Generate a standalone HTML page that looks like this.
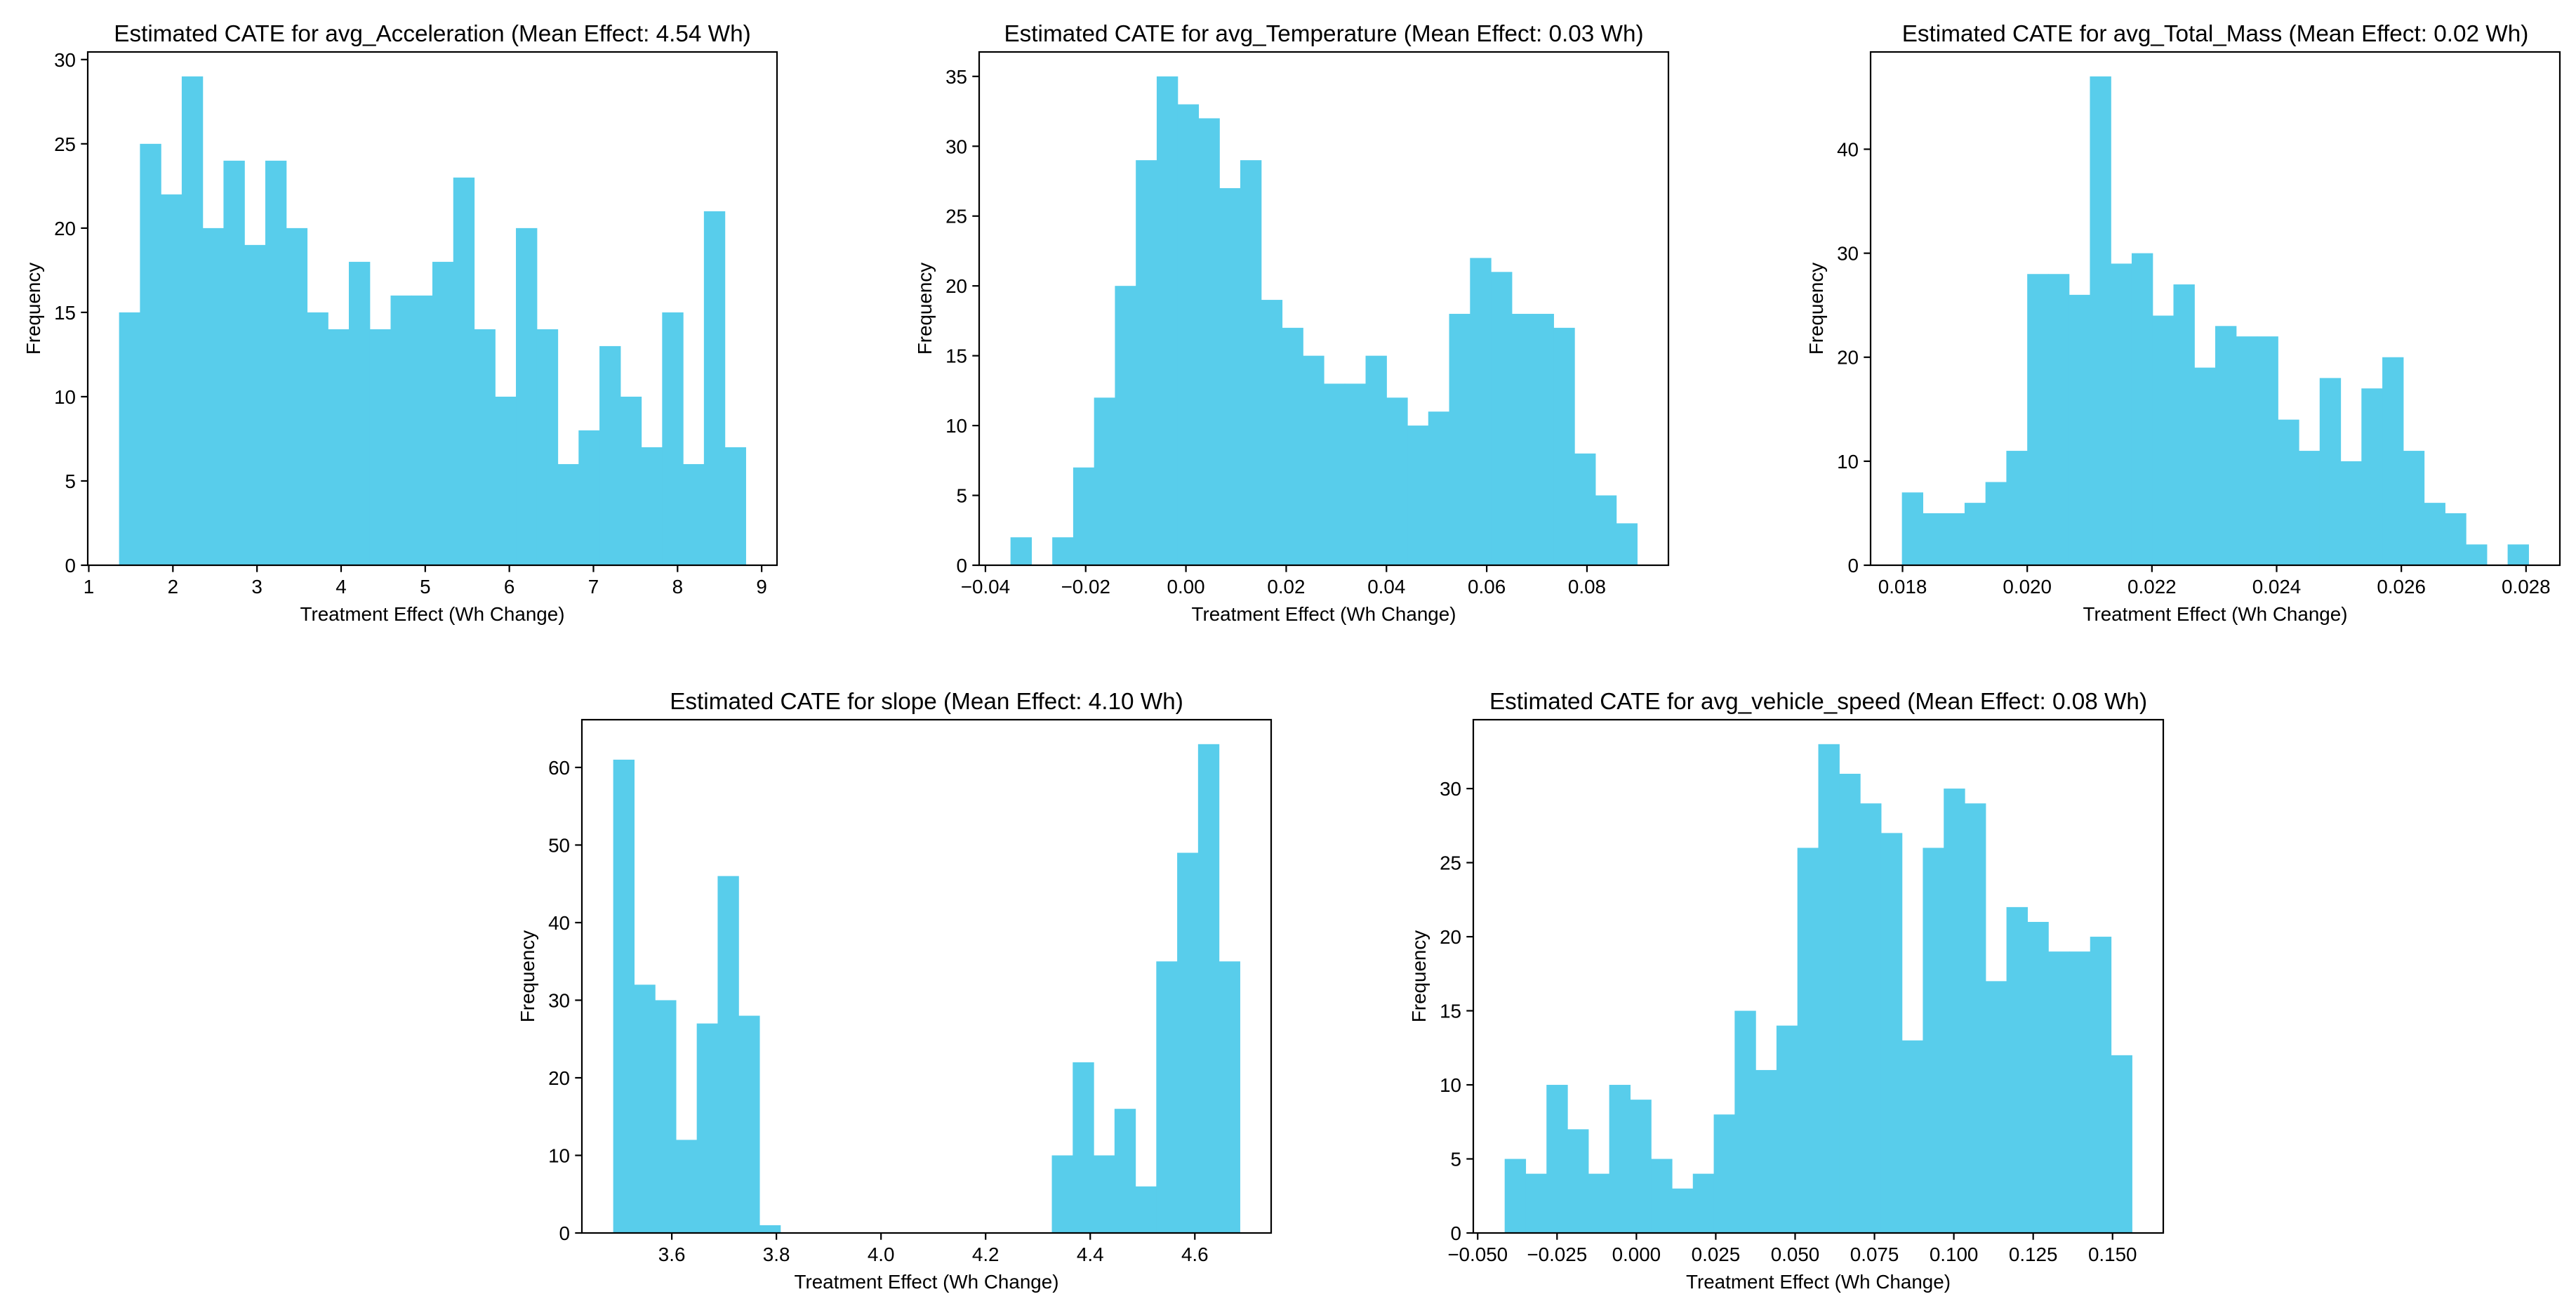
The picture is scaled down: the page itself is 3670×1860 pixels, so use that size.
<!DOCTYPE html>
<html><head><meta charset="utf-8"><style>
html,body{margin:0;padding:0;background:#fff;}
svg text{font-family:"Liberation Sans","DejaVu Sans",sans-serif;fill:#000;}
</style></head><body>
<svg id="fig" width="3670" height="1855" viewBox="0 0 3670 1855" xmlns="http://www.w3.org/2000/svg">
<rect width="3670" height="1855" fill="#fff"/>
</svg>
<script>
// ---- chart data ----
const titles = [
 "Estimated CATE for avg_Acceleration (Mean Effect: 4.54 Wh)",
 "Estimated CATE for avg_Temperature (Mean Effect: 0.03 Wh)",
 "Estimated CATE for avg_Total_Mass (Mean Effect: 0.02 Wh)",
 "Estimated CATE for slope (Mean Effect: 4.10 Wh)",
 "Estimated CATE for avg_vehicle_speed (Mean Effect: 0.08 Wh)"
];
const countsAccel = [15,25,22,29,20,24,19,24,20,15,14,18,14,16,16,18,23,14,10,20,14,6,8,13,10,7,15,6,21,7];
const countsTemp = [2,0,2,7,12,20,29,35,33,32,27,29,19,17,15,13,13,15,12,10,11,18,22,21,18,18,17,8,5,3];
const countsMass = [7,5,5,6,8,11,28,28,26,47,29,30,24,27,19,23,22,22,14,11,18,10,17,20,11,6,5,2,0,2];
const countsSlope = [61,32,30,12,27,46,28,1,0,0,0,0,0,0,0,0,0,0,0,0,0,10,22,10,16,6,35,49,63,35];
const countsSpeed = [5,4,10,7,4,10,9,5,3,4,8,15,11,14,26,33,31,29,27,13,26,30,29,17,22,21,19,19,20,12];
const binRanges = [[1.36,8.81],[-0.0350,0.0900],[0.01799,0.02804],[3.488,4.686],[-0.0415,0.1561]];
const xTicksAccel = [1,2,3,4,5,6,7,8,9];
const xTicksTemp = [-0.04,-0.02,0,0.02,0.04,0.06,0.08];
const xTicksMass = [0.018,0.020,0.022,0.024,0.026,0.028];
const xTicksSlope = [3.6,3.8,4.0,4.2,4.4,4.6];
const xTicksSpeed = [-0.05,-0.025,0,0.025,0.05,0.075,0.1,0.125,0.15];
const xDecimals = [0,2,3,1,3];
const yTicksAccel = [0,5,10,15,20,25,30];
const yTicksTemp = [0,5,10,15,20,25,30,35];
const yTicksMass = [0,10,20,30,40];
const yTicksSlope = [0,10,20,30,40,50,60];
const yTicksSpeed = [0,5,10,15,20,25,30];

const allCounts=[countsAccel,countsTemp,countsMass,countsSlope,countsSpeed];
const allX=[xTicksAccel,xTicksTemp,xTicksMass,xTicksSlope,xTicksSpeed];
const allY=[yTicksAccel,yTicksTemp,yTicksMass,yTicksSlope,yTicksSpeed];
const names=['acceleration','temperature','total-mass','slope','vehicle-speed'];
const boxes=[[125,74,1107,805],[1395,74,2377,805],[2665,74,3647,805],[829,1025,1811,1756],[2099,1025,3082,1756]];

const NS='http://www.w3.org/2000/svg';
const fig=document.getElementById('fig');
function mk(tag,attrs,parent){const e=document.createElementNS(NS,tag);for(const k in attrs)e.setAttribute(k,attrs[k]);parent.appendChild(e);return e;}
function fmt(v,d){let s=Math.abs(v)<1e-12?(0).toFixed(d):v.toFixed(d);return s.replace('-','\u2212');}

for(let c=0;c<5;c++){
 const [L,T,R,B]=boxes[c];
 const counts=allCounts[c];const [lo,hi]=binRanges[c];
 const span=hi-lo;const x0=lo-0.05*span,x1=hi+0.05*span;
 const ymax=1.05*Math.max(...counts);
 const sx=v=>L+(v-x0)/(x1-x0)*(R-L);
 const sy=v=>B-v/ymax*(B-T);
 const g=mk('g',{},fig);
 
 
 const n=counts.length;const w=span/n;
 for(let i=0;i<n;i++){
  if(counts[i]<=0)continue;
  const xa=sx(lo+i*w),xb=sx(lo+(i+1)*w);
  const r=mk('rect',{x:xa,y:sy(counts[i]),width:xb-xa+0.6,height:B-sy(counts[i]),fill:'#58cdeb'},g);
  
  
 }
 const fr=mk('rect',{x:L,y:T,width:R-L,height:B-T,fill:'none',stroke:'#000','stroke-width':2.2},g);
 
 
 allX[c].forEach(v=>{
  const x=sx(v);
  mk('line',{x1:x,x2:x,y1:B,y2:B+9.7,stroke:'#000','stroke-width':2.2},g);
  const t=mk('text',{x:x,y:B+40,'font-size':27.8,'text-anchor':'middle'},g);
  t.textContent=fmt(v,xDecimals[c]);
  
  
 });
 allY[c].forEach(v=>{
  const y=sy(v);
  mk('line',{x1:L-9.7,x2:L,y1:y,y2:y,stroke:'#000','stroke-width':2.2},g);
  const t=mk('text',{x:L-17,y:y+10,'font-size':27.8,'text-anchor':'end'},g);
  t.textContent=String(v);
  
  
 });
 const tt=mk('text',{x:(L+R)/2,y:T-15,'font-size':33.3,'text-anchor':'middle'},g);
 tt.textContent=titles[c];
 
 
 const xl=mk('text',{x:(L+R)/2,y:B+79,'font-size':27.8,'text-anchor':'middle'},g);
 xl.textContent='Treatment Effect (Wh Change)';
 
 
 const yl=mk('text',{x:0,y:0,'font-size':27.8,'text-anchor':'middle',transform:`translate(${L-68},${(T+B)/2}) rotate(-90)`},g);
 yl.textContent='Frequency';
 
 
}
</script>
</body></html>
